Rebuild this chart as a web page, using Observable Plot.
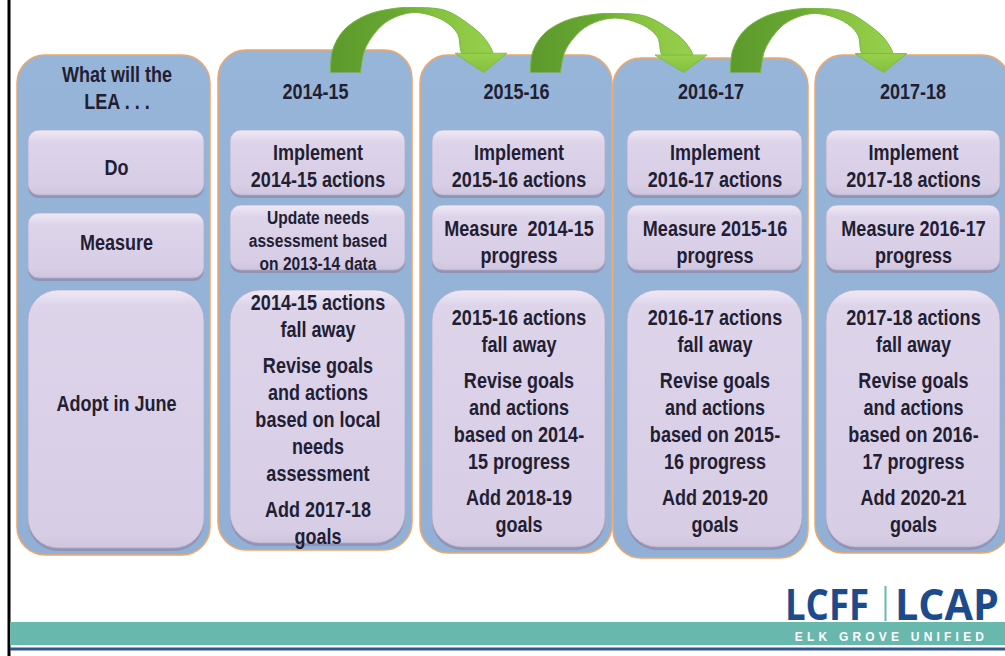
<!DOCTYPE html>
<html><head><meta charset="utf-8">
<script src="https://cdn.jsdelivr.net/npm/d3@7"></script>
<script src="https://cdn.jsdelivr.net/npm/@observablehq/plot@0.6"></script>
<style>html,body{margin:0;padding:0;background:#fff;overflow:hidden}</style>
</head><body><div id="chart"></div>
<script>
// ---------- content ----------
const columnHeaders = ["What will the\nLEA . . .", "2014-15", "2015-16", "2016-17", "2017-18"];
const doTexts = ["Do", "Implement\n2014-15 actions", "Implement\n2015-16 actions", "Implement\n2016-17 actions", "Implement\n2017-18 actions"];
const measureTexts = ["Measure", "Update needs\nassessment based\non 2013-14 data", "Measure  2014-15\nprogress", "Measure 2015-16\nprogress", "Measure 2016-17\nprogress"];
const planTexts = [
  ["Adopt in June"],
  ["2014-15 actions\nfall away", "Revise goals\nand actions\nbased on local\nneeds\nassessment", "Add 2017-18\ngoals"],
  ["2015-16 actions\nfall away", "Revise goals\nand actions\nbased on 2014-\n15 progress", "Add 2018-19\ngoals"],
  ["2016-17 actions\nfall away", "Revise goals\nand actions\nbased on 2015-\n16 progress", "Add 2019-20\ngoals"],
  ["2017-18 actions\nfall away", "Revise goals\nand actions\nbased on 2016-\n17 progress", "Add 2020-21\ngoals"]
];
const logoWords = ["LCFF", "LCAP"];
const logoSubtitle = "ELK GROVE UNIFIED";

// ---------- layout (pixel space) ----------
const W = 1005, H = 656;
const colLeft   = [17, 218, 420, 613, 815];
const colRight  = [210, 412, 612, 808, 1010];
const colTop    = [55, 50, 55, 58, 55];
const colBottom = [555, 550, 553, 558, 553];
const innerLeft  = [28, 230, 432, 627, 826];
const innerRight = [204, 405, 605, 802, 1000];
const doBand = [130, 195];
const measureBand = [[213, 278], [205, 270], [205, 270], [205, 270], [205, 270]];
const planBand = [[290, 548], [290, 543], [290, 547], [290, 547], [290, 547]];
const headerY = [86, 90, 90, 90, 90];
const doTextY = [166, 164, 164, 164, 164];
const measureTextY = [241, 239, 240, 240, 240];
const soloPlanY = 402;
const arrowBaseX = [330, 530, 730];
const arrowTopY = [7, 13, 8];
const arrowBaseY = 72;
const logoX = [826.5, 946.5];
const logoScale = [0.85, 0.96];
const textScale = 0.82;

// arrow shape template relative to base-left corner (height 65)
const bandOuter = [[0,0],[2,-22],[13,-42],[35,-57],[63,-64],[82,-65],[115,-62],[140,-47],[155,-33],[162,-17]];
const bandInner = [[133,-17],[127,-39],[113,-52],[84,-60],[58,-52],[44,-39],[34,-22],[30,0]];
const headShape = [[125,-19],[153,0],[176,-19]];

const textColor = "#221e33";
const fontFam = "'Liberation Sans Narrow','Arial Narrow','Liberation Sans',Arial,sans-serif";

// ---------- derived tables ----------
const cols = columnHeaders.map((h, i) => ({i, x1: colLeft[i], x2: colRight[i], y1: colTop[i], y2: colBottom[i]}));
const boxesSmall = [];
const boxesBig = [];
columnHeaders.forEach((h, i) => {
  boxesSmall.push({x1: innerLeft[i], x2: innerRight[i], y1: doBand[0], y2: doBand[1]});
  boxesSmall.push({x1: innerLeft[i], x2: innerRight[i], y1: measureBand[i][0], y2: measureBand[i][1]});
  boxesBig.push({x1: innerLeft[i], x2: innerRight[i], y1: planBand[i][0], y2: planBand[i][1]});
});

const arrowBands = [], arrowHeads = [];
arrowBaseX.forEach((bx, k) => {
  const f = (arrowBaseY - arrowTopY[k]) / 65;
  [...bandOuter, ...bandInner].forEach(([dx, dy]) => arrowBands.push({id: k, x: bx + dx, y: arrowBaseY + dy * f}));
  headShape.forEach(([dx, dy]) => arrowHeads.push({id: k, x: bx + dx, y: arrowBaseY + dy * f}));
});

const mainTexts = [];
const smallTexts = [];
columnHeaders.forEach((h, i) => {
  const cx = (innerLeft[i] + innerRight[i]) / 2;
  mainTexts.push({x: (colLeft[i] + Math.min(colRight[i], W + 10)) / 2 + (i === 0 ? 3 : 0), y: headerY[i], text: h});
  mainTexts.push({x: cx, y: doTextY[i], text: doTexts[i]});
  if (i === 1) smallTexts.push({x: cx, y: measureTextY[i], text: measureTexts[i]});
  else mainTexts.push({x: cx, y: measureTextY[i], text: measureTexts[i]});
  const paras = planTexts[i];
  if (paras.length === 1) { mainTexts.push({x: cx, y: soloPlanY, text: paras[0]}); return; }
  const lineGap = 27, paraGap = 36;
  const counts = paras.map(p => p.split("\n").length);
  const span = d3.sum(counts, n => (n - 1) * lineGap) + (paras.length - 1) * paraGap;
  const pb = planBand[i];
  let y = (pb[0] + pb[1]) / 2 + 1 - span / 2;
  paras.forEach((p, j) => {
    const n = counts[j];
    mainTexts.push({x: cx, y: y + (n - 1) * lineGap / 2, text: p});
    y += (n - 1) * lineGap + paraGap;
  });
});

const plot = Plot.plot({
  width: W, height: H, margin: 0,
  x: {domain: [0, W], range: [0, W], axis: null},
  y: {domain: [0, H], range: [0, H], axis: null},
  style: {fontFamily: fontFam, background: "#ffffff", overflow: "hidden"},
  marks: [
    Plot.ruleX([8.5], {y1: 0, y2: H, stroke: "#000", strokeWidth: 3}),
    Plot.rect(cols, {x1: "x1", x2: "x2", y1: "y1", y2: "y2", rx: 28, fill: "url(#gCol)", stroke: "#eea767", strokeWidth: 1.5}),
    Plot.line(arrowBands, {x: "x", y: "y", z: "id", curve: "catmull-rom", fill: "url(#gBand)", stroke: "#78b640", strokeWidth: 1}),
    Plot.line(arrowHeads, {x: "x", y: "y", z: "id", curve: "linear-closed", fill: "url(#gHead)", stroke: "#7dbb42", strokeWidth: 1}),
    Plot.rect(boxesSmall, {x1: "x1", x2: "x2", y1: d => d.y1 + 1, y2: d => d.y2 + 3, rx: 11, fill: "#8f8aa8", fillOpacity: 0.75}),
    Plot.rect(boxesBig, {x1: "x1", x2: "x2", y1: d => d.y1 + 1, y2: d => d.y2 + 3, rx: 30, fill: "#8f8aa8", fillOpacity: 0.75}),
    Plot.rect(boxesSmall, {x1: "x1", x2: "x2", y1: "y1", y2: "y2", rx: 11, fill: "url(#gBox)", stroke: "#b3abc7", strokeWidth: 0.8}),
    Plot.rect(boxesBig, {x1: "x1", x2: "x2", y1: "y1", y2: "y2", rx: 30, fill: "url(#gBoxBig)", stroke: "#b3abc7", strokeWidth: 0.8}),
    Plot.text(mainTexts, {x: "x", y: "y", text: "text", fontSize: 22, fontWeight: "bold", lineHeight: 27 / 22, fill: textColor}),
    Plot.text(smallTexts, {x: "x", y: "y", text: "text", fontSize: 19, fontWeight: "bold", lineHeight: 23 / 19, fill: textColor}),
    Plot.rect([0], {x1: 10, x2: W, y1: 622, y2: 645, fill: "#68b8ae"}),
    Plot.ruleY([648.5], {x1: 10, x2: W, stroke: "#34578b", strokeWidth: 3}),
    Plot.ruleX([885], {y1: 586, y2: 621, stroke: "#68b8ae", strokeWidth: 2}),
    Plot.text(logoWords, {x: (d, i) => logoX[i], y: 619, text: d => d, lineAnchor: "bottom", fontSize: 43, fontWeight: "bold", fill: "#1d4a8c", fontFamily: "'Open Sans','Liberation Sans',sans-serif"}),
    Plot.text([logoSubtitle], {x: 891, y: 637, text: d => d, fontSize: 12, fontWeight: "bold", fill: "#ffffff", fontFamily: "'Liberation Sans',Arial,sans-serif"})
  ]
});

const svg = d3.select(plot);
const defs = svg.insert("defs", ":first-child");
function grad(id, x2, y2, stops) {
  const g = defs.append("linearGradient").attr("id", id).attr("x1", 0).attr("y1", 0).attr("x2", x2).attr("y2", y2);
  stops.forEach(([o, c]) => g.append("stop").attr("offset", o).attr("stop-color", c));
}
grad("gCol", 0, 1, [[0, "#97b5d8"], [1, "#92b0d5"]]);
grad("gBand", 1, 0, [[0, "#5c9a2c"], [0.4, "#67a731"], [0.65, "#86c23f"], [1, "#98d04c"]]);
grad("gHead", 0, 1, [[0, "#98d04c"], [1, "#83c03f"]]);
grad("gBox", 0, 1, [[0, "#efe9f5"], [0.18, "#ddd4ea"], [0.85, "#d7cde5"], [1, "#cfc5de"]]);
grad("gBoxBig", 0, 1, [[0, "#efe9f5"], [0.06, "#ddd4ea"], [0.95, "#d7cde5"], [1, "#cfc5de"]]);

document.getElementById("chart").appendChild(plot);

// horizontal condensing of the narrow bold type
function squeeze(el, s) {
  const bb = el.getBBox();
  const cx = bb.x + bb.width / 2;
  const t = el.getAttribute("transform") || "";
  el.setAttribute("transform", `${t} translate(${cx},0) scale(${s},1) translate(${-cx},0)`);
}
svg.selectAll("text").each(function () {
  const txt = this.textContent;
  if (txt === logoSubtitle) { this.setAttribute("letter-spacing", 4.2); return; }
  const li = logoWords.indexOf(txt);
  squeeze(this, li >= 0 ? logoScale[li] : textScale);
});
</script>
</body></html>
